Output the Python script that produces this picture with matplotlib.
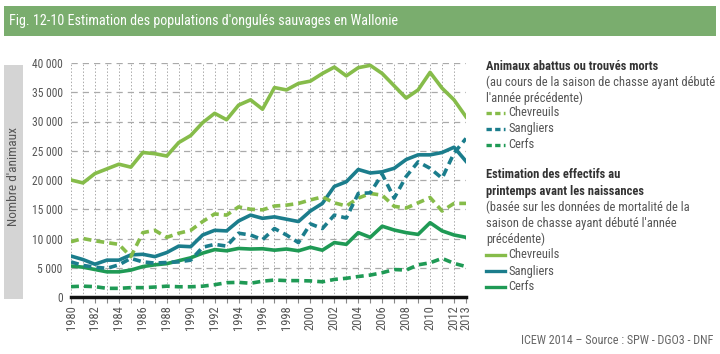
import numpy as np
import matplotlib
matplotlib.use("Agg")
from matplotlib import pyplot as plt
from matplotlib.lines import Line2D
from matplotlib.patches import Rectangle
from matplotlib.ticker import FuncFormatter

# the original uses a condensed face
plt.rcParams['font.family'] = ['Roboto Condensed', 'Liberation Sans', 'DejaVu Sans']

# DATA
years = np.arange(1980, 2014)

# estimated populations (solid)
chevreuils_est = [20000, 19500, 21100, 21900, 22700, 22200, 24700, 24500, 24100, 26400,
                  27600, 29800, 31400, 30300, 32800, 33700, 32100, 35800, 35400, 36500,
                  36900, 38200, 39300, 37800, 39200, 39600, 38200, 36100, 34000, 35400,
                  38400, 35700, 33700, 30800]
sangliers_est = [7000, 6400, 5600, 6300, 6300, 7200, 7300, 6900, 7600, 8700,
                 8600, 10600, 11400, 11300, 13000, 14000, 13450, 13700, 13300, 12900,
                 14700, 16000, 18900, 19700, 21800, 21200, 21400, 22000, 23500, 24300,
                 24300, 24700, 25600, 23200]
cerfs_est = [5300, 5100, 4700, 4300, 4300, 4600, 5200, 5500, 5700, 6200,
             6700, 7500, 8100, 7900, 8300, 8200, 8250, 8000, 8200, 7900,
             8500, 8000, 9300, 9000, 11000, 10200, 12100, 11450, 11000, 10700,
             12700, 11300, 10600, 10200]

# animals shot or found dead (dashed)
chevreuils_abat = [9450, 10000, 9600, 9300, 9000, 6900, 11000, 11400, 10200, 10900,
                   11400, 12900, 14200, 14000, 15400, 15000, 14900, 15550, 15700, 16000,
                   16600, 17100, 16100, 15550, 16900, 17700, 17400, 15500, 15200, 16100,
                   17000, 14700, 16000, 16000]
sangliers_abat = [6000, 5400, 5100, 4900, 5500, 6600, 6000, 5800, 5900, 6000,
                  6300, 8500, 9000, 8700, 10900, 10600, 9800, 11700, 10600, 9300,
                  12500, 11700, 14000, 13500, 17700, 17800, 21000, 16900, 20600, 23100,
                  22000, 20300, 24600, 27100]
cerfs_abat = [1770, 1850, 1770, 1480, 1480, 1600, 1600, 1700, 1850, 1750,
              1750, 1850, 2100, 2450, 2500, 2350, 2700, 2900, 2800, 2800,
              2750, 2600, 3000, 3200, 3500, 3750, 4150, 4700, 4600, 5500,
              5850, 6600, 5750, 5200]

legend_names = ["Chevreuils", "Sangliers", "Cerfs"]

c_chev = '#86bc4a'
c_sang = '#1b7d8c'
c_cerf = '#1f9a55'

W, H = 720, 354
fig = plt.figure(figsize=(W / 100, H / 100), dpi=100)

# title bar
fig.add_artist(Rectangle((4 / W, 1 - 36 / H), 712 / W, 30 / H, transform=fig.transFigure,
                         facecolor='#7aad6e', edgecolor='none'))
fig.text(9 / W, 1 - 21 / H, "Fig. 12-10 Estimation des populations d'ongulés sauvages en Wallonie",
         color='white', fontsize=10.2, va='center', ha='left')

# y label box
fig.add_artist(Rectangle((4 / W, 1 - 299 / H), 19 / W, 234 / H, transform=fig.transFigure,
                         facecolor='#d4d4d4', edgecolor='none'))
fig.text(13.5 / W, 1 - 176 / H, "Nombre d'animaux", rotation=90, color='#555555',
         fontsize=9.6, ha='center', va='center')

ax = fig.add_axes([71 / W, 1 - 297 / H, 395 / W, 234 / H])

lw = 2.6
dash = (0, (2.2, 1.4))
ax.plot(years, chevreuils_est, color=c_chev, lw=lw, zorder=3)
ax.plot(years, sangliers_est, color=c_sang, lw=lw, zorder=3)
ax.plot(years, cerfs_est, color=c_cerf, lw=lw, zorder=3)
ax.plot(years, chevreuils_abat, color=c_chev, lw=lw, ls=dash, zorder=3)
ax.plot(years, sangliers_abat, color=c_sang, lw=lw, ls=dash, zorder=3)
ax.plot(years, cerfs_abat, color=c_cerf, lw=lw, ls=dash, zorder=3)

ax.set_xlim(1980, 2013)
ax.set_ylim(0, 40000)
ax.set_yticks(np.arange(0, 40001, 5000))
ax.yaxis.set_major_formatter(FuncFormatter(lambda v, p: f"{int(v):,}".replace(',', ' ')))
ax.set_xticks(years)
ax.set_xticklabels([str(y) if (y % 2 == 0 or y == 2013) else '' for y in years],
                   rotation=90, fontsize=9, color='#555555')
ax.tick_params(axis='y', length=0, labelsize=8.3, labelcolor='#555555', pad=6)
ax.tick_params(axis='x', length=4, color='#888888', pad=2)

for v in np.arange(5000, 40001, 5000):
    ax.axhline(v, color='#aaaaaa', lw=0.9, ls=(0, (5, 4)), zorder=1)
for y in years:
    ax.axvline(y, color='#aaaaaa', lw=0.7, ls=(0, (1.5, 2)), zorder=1)

for s in ['top', 'right', 'left']:
    ax.spines[s].set_visible(False)
ax.spines['bottom'].set_linewidth(2.5)
ax.spines['bottom'].set_color('#111111')

# legend, drawn by hand to keep the two grouped blocks
fs = 9.0
def ftxt(ypx, s, bold=False, x=486):
    fig.text(x / W, 1 - ypx / H, s, fontsize=fs, color='#333333' if bold else '#555555',
             fontweight='bold' if bold else 'normal', va='center', ha='left')

def fhandle(ypx, color, dashed):
    fig.add_artist(Line2D([486 / W, 505 / W], [1 - ypx / H] * 2, transform=fig.transFigure,
                          color=color, lw=2.4, ls=(0, (1.6, 1.0)) if dashed else '-'))

colors = [c_chev, c_sang, c_cerf]

ftxt(66, "Animaux abattus ou trouvés morts", bold=True)
ftxt(82, "(au cours de la saison de chasse ayant débuté")
ftxt(98, "l'année précédente)")
for i, name in enumerate(legend_names):
    fhandle(113 + 16 * i, colors[i], True)
    ftxt(113 + 16 * i, name, x=508)

ftxt(175, "Estimation des effectifs au", bold=True)
ftxt(191, "printemps avant les naissances", bold=True)
ftxt(207, "(basée sur les données de mortalité de la")
ftxt(223, "saison de chasse ayant débuté l'année")
ftxt(239, "précédente)")
for i, name in enumerate(legend_names):
    fhandle(255 + 16 * i, colors[i], False)
    ftxt(255 + 16 * i, name, x=508)

fig.text(713 / W, 1 - 341 / H, "ICEW 2014 – Source : SPW - DGO3 - DNF", fontsize=8.7,
         color='#666666', ha='right', va='center')

fig.savefig("out.png", dpi=100)
